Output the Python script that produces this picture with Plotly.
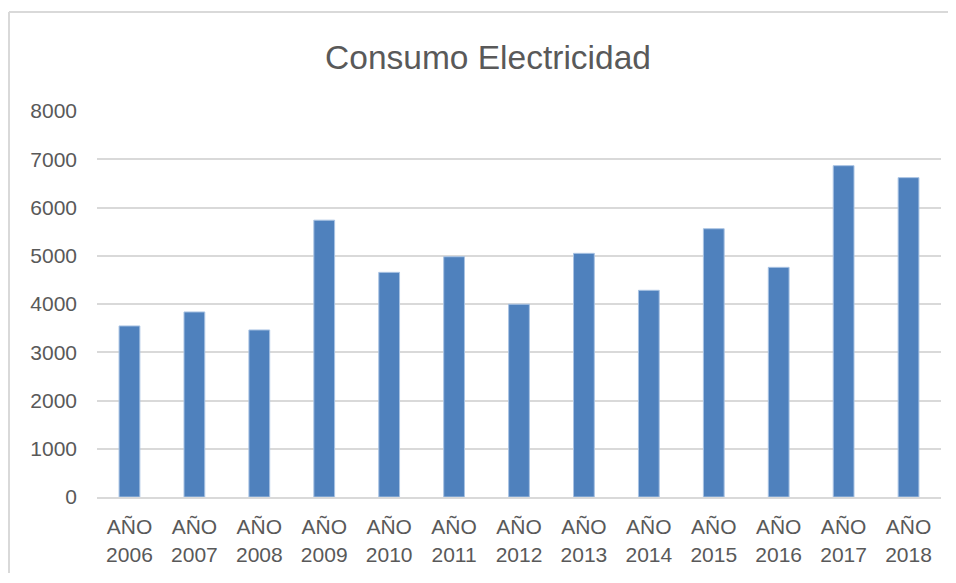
import plotly.graph_objects as go

categories = ["AÑO<br>2006", "AÑO<br>2007", "AÑO<br>2008", "AÑO<br>2009", "AÑO<br>2010",
              "AÑO<br>2011", "AÑO<br>2012", "AÑO<br>2013", "AÑO<br>2014", "AÑO<br>2015",
              "AÑO<br>2016", "AÑO<br>2017", "AÑO<br>2018"]
consumo = [3545, 3835, 3462, 5737, 4656, 4980, 3995, 5050, 4284, 5560, 4760, 6867, 6619]
y_ticks = [0, 1000, 2000, 3000, 4000, 5000, 6000, 7000, 8000]

# page has an 8px body margin; the figure is laid out in its own coordinates
OFF = 8
W, H = 940, 565
L, R, T, B = 97 - OFF, 941 - OFF, 111 - OFF, 497 - OFF

TEXT = "#595959"
GRID = "#D9D9D9"
FONT = "Liberation Sans, Arial, sans-serif"

fig = go.Figure(go.Bar(
    x=categories, y=consumo,
    marker=dict(color="#4F81BD", line=dict(color="#A9C3E3", width=1)),
    width=0.32,
))

def px_x(p):
    return (p - L) / (R - L)

def px_y(p):
    return (B - p) / (B - T)

fig.update_layout(
    width=W, height=H,
    margin=dict(l=L, r=W - R, t=T, b=H - B, pad=0),
    paper_bgcolor="white", plot_bgcolor="white",
    showlegend=False,
    font=dict(family=FONT, color=TEXT, size=21),
    title=dict(text="Consumo Electricidad", x=(488 - OFF) / W, xref="container", xanchor="center",
               y=1 - (57 - OFF) / H, yref="container", yanchor="middle",
               font=dict(family=FONT, size=33.5, color=TEXT)),
    xaxis=dict(showgrid=False, showline=True, linecolor=GRID, linewidth=2,
               ticks="", tickfont=dict(size=21, color=TEXT), ticklabelstandoff=10,
               fixedrange=True),
    yaxis=dict(range=[0, 8000], tickvals=y_ticks, showgrid=True, gridcolor=GRID, gridwidth=2,
               zeroline=False, showline=False, ticks="",
               tickfont=dict(size=21, color=TEXT), ticklabelstandoff=19,
               fixedrange=True),
    shapes=[
        dict(type="line", xref="paper", yref="paper", x0=px_x(1), x1=px_x(W),
             y0=px_y(12 - OFF), y1=px_y(12 - OFF), line=dict(color=GRID, width=2)),
        dict(type="line", xref="paper", yref="paper", x0=px_x(1), x1=px_x(1),
             y0=px_y(12 - OFF), y1=px_y(H), line=dict(color=GRID, width=2)),
    ],
)

fig.write_html("out.html")
